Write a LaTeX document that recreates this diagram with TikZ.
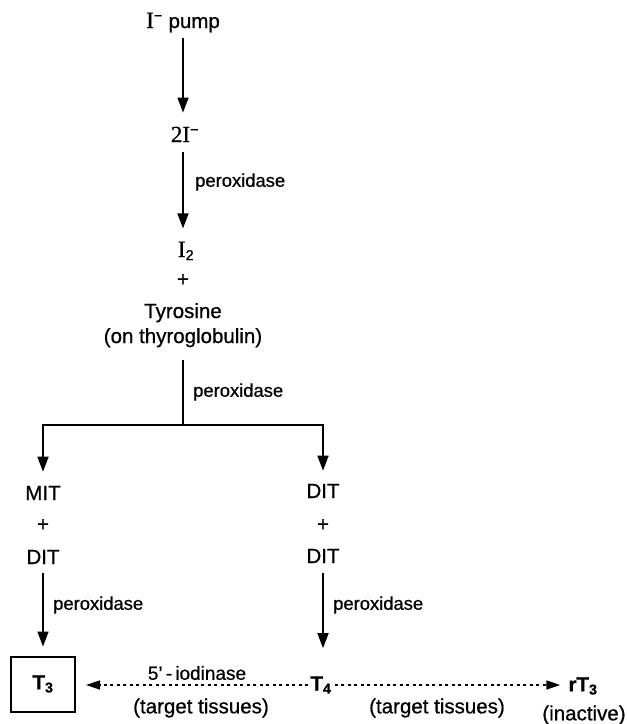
\documentclass[tikz,border=0pt]{standalone}
\usepackage{fontspec}
\setmainfont{Liberation Sans}[FakeBold=0.7]
\newfontfamily\serifI{Liberation Serif}[FakeBold=0.7]
\usetikzlibrary{arrows.meta}
\begin{document}
\begin{tikzpicture}[x=1pt,y=-1pt,
  lab/.style={inner sep=0pt,font=\fontsize{20.5}{24}\selectfont},
  bold/.style={inner sep=0pt,font=\bfseries\fontsize{20.5}{24}\selectfont},
  enz/.style={inner sep=0pt,anchor=west,font=\fontsize{18.4}{22}\selectfont},
  arr/.style={line width=1.6pt,-{Triangle[length=15pt,width=11pt]}},
  dotarr/.style={line width=1.6pt,dash pattern=on 3pt off 3.5pt,-{Triangle[length=14pt,width=9pt]}},
  ]
\useasboundingbox (0,0) rectangle (627,724);
% top column
\node[lab,anchor=base] (pump) at (183,28) {{\serifI\fontsize{23.5}{26}\selectfont I}\textsuperscript{\char"2212} pump};
\node[lab,anchor=base] (twoI) at (185,142) {{\serifI\fontsize{23}{26}\selectfont 2I}\textsuperscript{\char"2212}};
\node[lab,anchor=base] (itwo) at (186,257) {{\serifI\fontsize{23.5}{26}\selectfont I}\textsubscript{2}};
\node[lab,anchor=base] (plus1) at (183,286) {+};
\node[lab,anchor=base] (tyr) at (183,318) {Tyrosine};
\node[lab,anchor=base] (thyro) at (183,343) {(on thyroglobulin)};
\coordinate (split) at (183,425);
\draw[arr,shorten <=6pt,shorten >=14pt] (pump.south) -- (pump.south |- twoI.north);
\draw[arr,shorten <=10pt,shorten >=13pt] (pump.south |- twoI.south) -- (pump.south |- itwo.north);
\node[enz] (p1) at (195,182) {peroxidase};
\draw[line width=1.6pt,shorten <=13pt] (thyro.south) -- (split);
\node[enz] (p2) at (193,392) {peroxidase};
% left column
\node[lab,anchor=base] (mit) at (43,500) {MIT};
\node[lab,anchor=base] (plusL) at (43,531) {+};
\node[lab,anchor=base] (ditL) at (43,564) {DIT};
\node[draw,line width=2pt,minimum width=64pt,minimum height=55pt,inner sep=0pt,
      font=\bfseries\fontsize{20.5}{24}\selectfont] (t3) at (43,684) {T\textsubscript{3}};
\draw[arr,shorten >=14pt] (split) -| (mit.north);
\draw[arr,shorten <=9pt,shorten >=9pt] (ditL.south) -- (t3.north);
\node[enz] (p3) at (53,605) {peroxidase};
% right column
\node[lab,anchor=base] (ditR1) at (323,498) {DIT};
\node[lab,anchor=base] (plusR) at (323,531) {+};
\node[lab,anchor=base] (ditR2) at (323,563) {DIT};
\node[bold] (t4) at (321,685) {T\textsubscript{4}};
\draw[arr,shorten >=13pt] (split) -| (ditR1.north);
\draw[arr,shorten <=10pt,shorten >=28pt] (ditR2.south) -- (ditR2.south |- t4.north);
\node[enz] (p4) at (333,605) {peroxidase};
% bottom row
\node[bold] (rt3) at (583,686) {rT\textsubscript{3}};
\draw[dotarr,shorten <=2pt,shorten >=10pt] (t4.west) -- (t4.west -| t3.east);
\draw[dotarr,shorten <=3pt,shorten >=8pt] (t4.east) -- (t4.east -| rt3.west);
\node[lab,font=\fontsize{19}{22}\selectfont] (iod) at (197,673) {5\textquoteright\,-\,iodinase};
\node[lab] (tt1) at (201,708) {(target tissues)};
\node[lab] (tt2) at (437,708) {(target tissues)};
\node[lab] (inact) at (584,715) {(inactive)};
\end{tikzpicture}
\end{document}
